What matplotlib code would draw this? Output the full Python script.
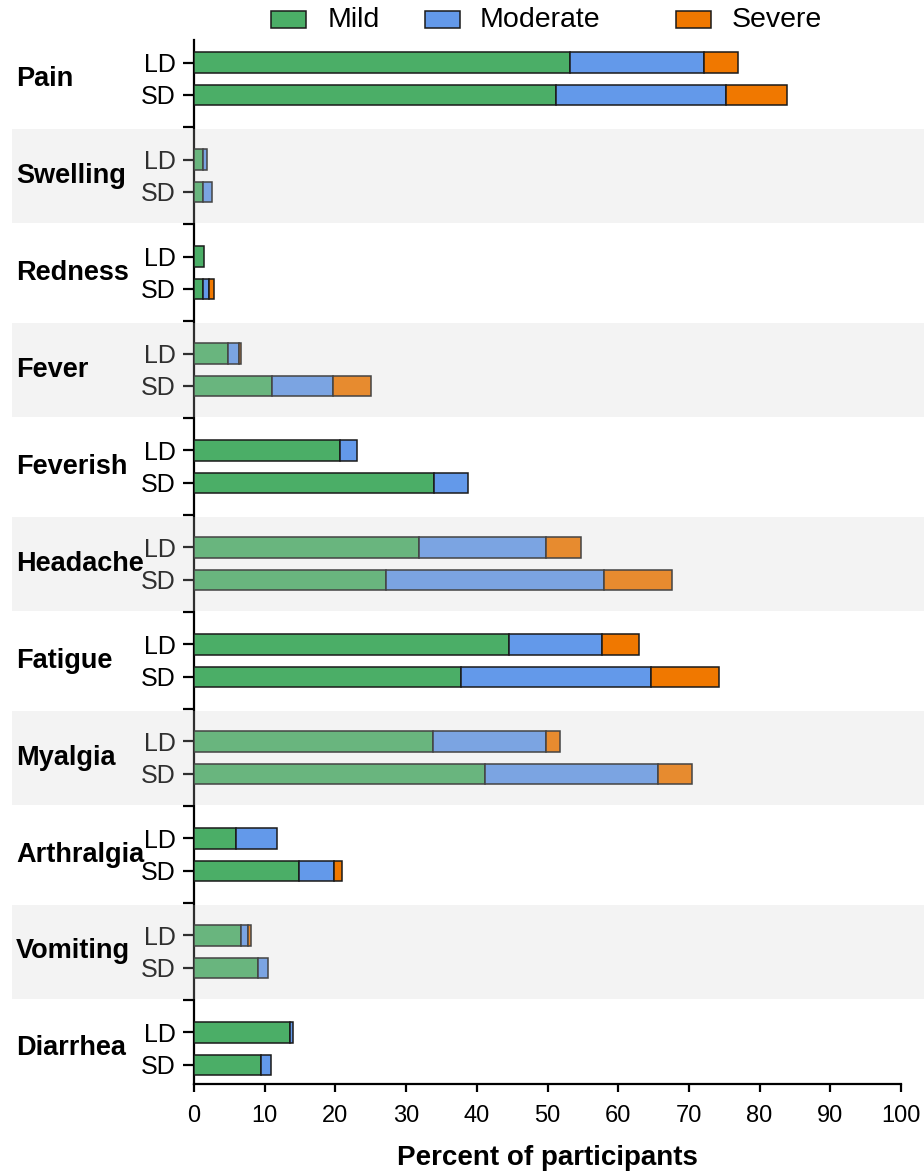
import matplotlib
matplotlib.use("Agg")
import matplotlib.pyplot as plt
import numpy as np
from matplotlib.patches import Rectangle
from matplotlib.transforms import blended_transform_factory

plt.rcParams['font.family'] = ['Liberation Sans', 'DejaVu Sans']

categories = ["Pain", "Swelling", "Redness", "Fever", "Feverish", "Headache",
              "Fatigue", "Myalgia", "Arthralgia", "Vomiting", "Diarrhea"]
dose_labels = ["LD", "SD"]
severity_labels = ["Mild", "Moderate", "Severe"]

ld_mild = [53.2, 1.3, 1.4, 4.8, 20.7, 31.8, 44.5, 33.8, 5.9, 6.7, 13.6]
ld_moderate = [18.9, 0.6, 0.0, 1.5, 2.4, 18.0, 13.2, 16.0, 5.9, 1.0, 0.4]
ld_severe = [4.8, 0.0, 0.0, 0.4, 0.0, 4.9, 5.2, 1.9, 0.0, 0.4, 0.0]

sd_mild = [51.2, 1.3, 1.3, 11.0, 33.9, 27.2, 37.8, 41.2, 14.9, 9.0, 9.5]
sd_moderate = [24.0, 1.3, 0.8, 8.7, 4.8, 30.8, 26.9, 24.4, 4.9, 1.4, 1.4]
sd_severe = [8.7, 0.0, 0.7, 5.3, 0.0, 9.6, 9.6, 4.9, 1.1, 0.0, 0.0]

shaded = ["Swelling", "Fever", "Headache", "Myalgia", "Vomiting"]

colors = ["#4bae67", "#6399ea", "#f07800"]

W, H = 924, 1176
fig = plt.figure(figsize=(W / 100, H / 100), dpi=100)
ax = fig.add_axes([194 / W, 1 - 1084 / H, (901 - 194) / W, (1084 - 40) / H])

n = len(categories)
centers = np.arange(n)
offsets = {"LD": -0.165, "SD": 0.17}
bar_h = 0.21

series = {"LD": [ld_mild, ld_moderate, ld_severe],
          "SD": [sd_mild, sd_moderate, sd_severe]}

for dose in dose_labels:
    ypos = centers + offsets[dose]
    left = np.zeros(n)
    for k, vals in enumerate(series[dose]):
        vals = np.array(vals, dtype=float)
        mask = vals > 0
        ax.barh(ypos[mask], vals[mask], left=left[mask], height=bar_h,
                color=colors[k], edgecolor="#1a1a1a", linewidth=1.1, zorder=3)
        left = left + vals

ax.set_xlim(0, 100)
ax.set_ylim(10.366, -0.397)
ax.set_xticks(np.arange(0, 101, 10))
ax.tick_params(axis='x', labelsize=17, width=1.6, length=6, pad=9)

ytick_pos = []
ytick_lab = []
for c in centers:
    for dose in dose_labels:
        ytick_pos.append(c + offsets[dose])
        ytick_lab.append(dose)
ax.set_yticks(ytick_pos)
ax.set_yticklabels(ytick_lab)
ax.set_yticks(np.arange(0.5, n - 1, 1.0), minor=True)
ax.tick_params(axis='y', which='major', labelsize=18, width=1.6, length=8, pad=5)
ax.tick_params(axis='y', which='minor', width=1.6, length=8)

for s in ["top", "right"]:
    ax.spines[s].set_visible(False)
for s in ["left", "bottom"]:
    ax.spines[s].set_linewidth(1.6)

ax.set_xlabel("Percent of participants", fontsize=20, fontweight="bold", labelpad=13)

trans = blended_transform_factory(fig.transFigure, ax.transData)
for i, cat in enumerate(categories):
    if cat in shaded:
        r = Rectangle((12 / W, i - 0.48), 1 - 12 / W, 0.97, transform=trans,
                      facecolor="#cccccc", alpha=0.235, edgecolor="none", zorder=5)
        fig.patches.append(r)
    fig.text(16 / W, i, cat, transform=trans, fontsize=19.5, fontweight="bold",
             ha="left", va="center", zorder=10)

# legend
leg_patch_x = [271, 425, 676]
leg_text_x = [328, 480, 732]
for k, lab in enumerate(severity_labels):
    fig.patches.append(Rectangle((leg_patch_x[k] / W, 1 - 28 / H), 35 / W, 17 / H,
                                 transform=fig.transFigure, facecolor=colors[k],
                                 edgecolor="#1a1a1a", linewidth=1.1, zorder=10))
    fig.text(leg_text_x[k] / W, 1 - 20 / H, lab, fontsize=20.5, ha="left",
             va="center", zorder=10)

fig.savefig("out.png", dpi=100)
